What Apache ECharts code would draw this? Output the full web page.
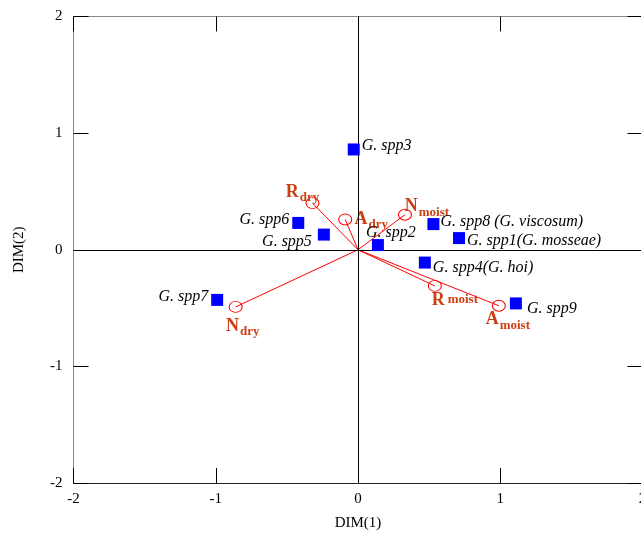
<!DOCTYPE html>
<html>
<head>
<meta charset="utf-8">
<script src="https://cdn.jsdelivr.net/npm/echarts@6/dist/echarts.min.js"></script>
<style>
html,body{margin:0;padding:0;background:#fff;}
#c{width:641px;height:534px;}
</style>
</head>
<body>
<div id="c"></div>
<script>
// ---- data ----
var speciesNames = ['G. spp3','G. spp6','G. spp5','G. spp2','G. spp8 (G. viscosum)','G. spp1(G. mosseae)','G. spp4(G. hoi)','G. spp9','G. spp7'];
var speciesX = [-0.03, -0.42, -0.24, 0.14, 0.53, 0.71, 0.47, 1.11, -0.99];
var speciesY = [0.86, 0.23, 0.13, 0.04, 0.22, 0.10, -0.11, -0.46, -0.43];

var vectorMain = ['R','A','N','R','A','N'];
var vectorSub = ['dry','dry','moist','moist','moist','dry'];
var vectorX = [-0.32, -0.09, 0.33, 0.54, 0.99, -0.86];
var vectorY = [0.40, 0.26, 0.30, -0.31, -0.48, -0.49];

var axisTicks = [-2, -1, 0, 1, 2];
var xName = 'DIM(1)';
var yName = 'DIM(2)';

// ---- label layout (styles) ----
var speciesLabelAlign = ['left','right','right','left','left','left','left','left','right'];
var speciesLabelOffset = [[8,-4],[-9,-3],[-12,7],[-12,-12],[7,-2],[8,3],[8,5],[11,5],[-9,-3]];
var vectorLabelOffset = [[-10,-11],[26,0],[22,-8],[20,14],[9,14],[7,19]];
var vectorLabelStyle = ['s','s','s','m','s','s'];

var serif = '"Liberation Serif","Times New Roman",serif';
var labelColor = '#cc3f12';

var chart = echarts.init(document.getElementById('c'), null, {renderer:'canvas'});

function axisCommon(show){
  return {
    type:'value', min:axisTicks[0], max:axisTicks[axisTicks.length-1], interval:1,
    splitLine:{show:false},
    axisTick:{show:true, inside:true, length:15, lineStyle:{color:'#000', width:1}},
    axisLabel:{show:show, fontFamily:serif, fontSize:15, color:'#000'},
  };
}

var xb = axisCommon(true);
xb.position='bottom'; xb.axisLine={show:true,onZero:false,lineStyle:{color:'#222',width:1}};
xb.axisLabel.margin=9;
xb.name=xName; xb.nameLocation='middle'; xb.nameGap=33;
xb.nameTextStyle={fontFamily:serif,fontSize:15,color:'#000'};
var xt = axisCommon(false);
xt.position='top'; xt.axisLine={show:true,onZero:false,lineStyle:{color:'#888',width:1}};
var yl = axisCommon(true);
yl.position='left'; yl.axisLine={show:true,onZero:false,lineStyle:{color:'#888',width:1}};
yl.axisLabel.margin=11;
yl.name=yName; yl.nameLocation='middle'; yl.nameGap=47;
yl.nameTextStyle={fontFamily:serif,fontSize:15,color:'#000'};
var yr = axisCommon(false);
yr.position='right'; yr.axisLine={show:true,onZero:false,lineStyle:{color:'#888',width:1}};

var series = [];
// zero reference lines
series.push({
  type:'scatter', data:[], xAxisIndex:0, yAxisIndex:0, silent:true,
  markLine:{silent:true, symbol:'none', label:{show:false},
    lineStyle:{color:'#000', width:1, type:'solid'},
    data:[{xAxis:0},{yAxis:0}]}
});
// vectors
for (var i=0;i<vectorX.length;i++){
  series.push({
    type:'line', xAxisIndex:0, yAxisIndex:0, silent:true, symbol:'none',
    lineStyle:{color:'#ff0000', width:1},
    data:[[0,0],[vectorX[i],vectorY[i]]], z:3
  });
}
// vector end circles with labels
series.push({
  type:'scatter', xAxisIndex:0, yAxisIndex:0, silent:true,
  symbol:'circle', symbolSize:[13,11],
  itemStyle:{color:'rgba(0,0,0,0)', borderColor:'#ff0000', borderWidth:1, opacity:1},
  data: vectorX.map(function(x,i){
    return {value:[x, vectorY[i]], label:{show:true, position:'inside', align:'center', verticalAlign:'middle',
      offset:vectorLabelOffset[i],
      formatter:'{b|'+vectorMain[i]+'}{'+vectorLabelStyle[i]+'|'+vectorSub[i]+'}'}};
  }),
  label:{rich:{
    b:{fontFamily:serif, fontWeight:'bold', fontSize:18, color:labelColor, verticalAlign:'top', lineHeight:18},
    s:{fontFamily:serif, fontWeight:'bold', fontSize:13, color:labelColor, verticalAlign:'top', lineHeight:13, padding:[8,0,0,1]},
    m:{fontFamily:serif, fontWeight:'bold', fontSize:13, color:labelColor, verticalAlign:'top', lineHeight:13, padding:[2,0,0,3]}
  }},
  z:4
});
// species squares
series.push({
  type:'scatter', xAxisIndex:0, yAxisIndex:0, silent:true,
  symbol:'rect', symbolSize:12,
  itemStyle:{color:'#0000ff', opacity:1},
  data: speciesX.map(function(x,i){
    return {value:[x, speciesY[i]], name:speciesNames[i],
      label:{show:true, position:'inside', align:speciesLabelAlign[i], verticalAlign:'middle', offset:speciesLabelOffset[i],
        formatter:speciesNames[i], fontFamily:serif, fontStyle:'italic', fontSize:16, color:'#000'}};
  }),
  z:5
});

chart.setOption({
  animation:false,
  backgroundColor:'#fff',
  grid:{left:73.5, top:16.5, width:569, height:466.5, containLabel:false, outerBoundsMode:'none'},
  xAxis:[xb, xt],
  yAxis:[yl, yr],
  series:series
});
</script>
</body>
</html>
